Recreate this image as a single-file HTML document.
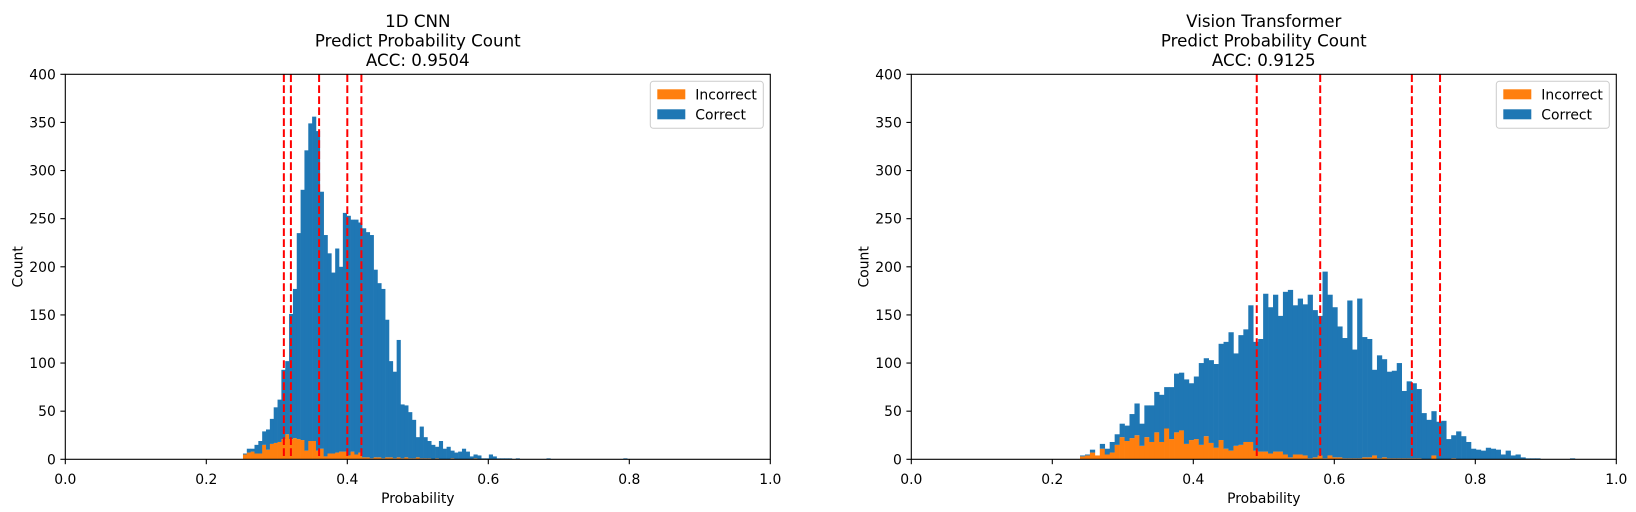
<!DOCTYPE html>
<html><head><meta charset="utf-8"><style>
html,body{margin:0;padding:0;background:#fff;}
svg{display:block;font-family:"DejaVu Sans","Liberation Sans",sans-serif;}
</style></head><body>
<svg id="fig" width="1636" height="512" viewBox="0 0 1636 512" xmlns="http://www.w3.org/2000/svg"></svg>
<script>
// ---- data ----
const xTicks = [0, 0.2, 0.4, 0.6, 0.8, 1.0];
const xTickLabels = ["0.0", "0.2", "0.4", "0.6", "0.8", "1.0"];
const yTicks = [0, 50, 100, 150, 200, 250, 300, 350, 400];
const cnnTitle = ["1D CNN", "Predict Probability Count", "ACC: 0.9504"];
const vitTitle = ["Vision Transformer", "Predict Probability Count", "ACC: 0.9125"];
const cnnBinStart = 0.252, cnnBinWidth = 0.00545;
const vitBinStart = 0.2393, vitBinWidth = 0.00702;
const cnnTotal = [6,11,11,15,19,29,31,42,54,62,93,102,151,177,235,280,321,349,356,341,278,233,214,194,219,200,256,253,249,249,246,240,236,233,197,183,177,145,102,91,124,57,56,49,41,23,34,23,19,15,13,19,11,13,9,7,8,11,8,3,5,4,1,1,5,3,1,1,1,1,0,1,0,0,0,0,0,0,0,1,0,0,0,0,0,0,0,0,0,0,0,0,0,0,0,0,0,0,0,1];
const cnnIncorrect = [5,7,8,6,6,15,10,16,17,18,21,26,21,22,21,20,9,19,19,9,11,3,6,6,7,8,8,4,8,5,7,2,2,1,2,2,1,2,2,1,2,1,2,1,1,2,1,1,1,0,1,0,0,0,1,0,0,0,0,0,1,0,0,0,0,0,0,0,0,0,0,0,0,0,0,0,0,0,0,0,0,0,0,0,0,0,0,0,0,0,0,0,0,0,0,0,0,0,0,0];
const vitTotal = [4,5,10,4,16,11,18,26,37,35,47,58,37,56,56,70,67,75,75,89,90,83,79,86,100,105,103,99,120,122,132,110,129,135,160,122,125,172,158,171,149,174,176,160,167,161,171,155,149,195,171,158,138,126,165,114,167,127,125,93,108,104,91,92,100,71,81,79,73,48,41,50,39,40,21,25,29,24,18,11,10,9,12,11,10,5,9,4,5,2,1,1,1,0,0,0,0,0,0,1];
const vitIncorrect = [3,4,7,4,11,5,7,15,23,19,22,25,14,23,18,28,18,32,21,28,30,16,20,21,15,24,17,12,20,11,9,14,15,18,18,9,8,8,6,8,8,5,2,5,5,4,1,2,4,1,4,2,2,1,1,1,1,2,2,4,1,2,1,1,1,1,1,1,1,0,0,4,0,0,0,1,0,0,0,0,0,0,0,0,0,0,0,0,0,0,0,0,0,0,0,0,0,0,0,0];
const cnnThresholds = [0.31, 0.32, 0.36, 0.40, 0.42];
const vitThresholds = [0.49, 0.58, 0.71, 0.75];

const NS = "http://www.w3.org/2000/svg";
const fig = document.getElementById("fig");
function mk(tag, attrs, parent) {
  const e = document.createElementNS(NS, tag);
  for (const k in attrs) e.setAttribute(k, attrs[k]);
  (parent || fig).appendChild(e);
  return e;
}
const TOP = 74.3, BOT = 459.3, YMAX = 400;
function panel(name, x0, x1, title, start, width, total, inc, thr) {
  const g = mk("g", {});
  
  
  const xs = v => x0 + v * (x1 - x0);
  const ys = v => BOT - v / YMAX * (BOT - TOP);
  const bars = mk("g", {}, g);
  
  
  for (let i = 0; i < total.length; i++) {
    const l = xs(start + i * width), r = xs(start + (i + 1) * width);
    const iv = inc[i], cv = Math.max(0, total[i] - inc[i]);
    if (iv > 0) {
      const b = mk("rect", {x: l, y: ys(iv), width: r - l + 0.3, height: ys(0) - ys(iv), fill: "#ff7f0e"}, bars);
      
      
    }
    if (cv > 0) {
      const b = mk("rect", {x: l, y: ys(iv + cv), width: r - l + 0.3, height: ys(iv) - ys(iv + cv), fill: "#1f77b4"}, bars);
      
      
    }
  }
  thr.forEach(t => {
    const l = mk("line", {x1: xs(t), x2: xs(t), y1: TOP, y2: BOT, stroke: "#ff0000", "stroke-width": 2, "stroke-dasharray": "7.7,3.3"}, g);
    
    
  });
  const fr = mk("rect", {x: x0, y: TOP, width: x1 - x0, height: BOT - TOP, fill: "none", stroke: "#000", "stroke-width": 1.1}, g);
  
  
  xTicks.forEach((t, k) => {
    mk("line", {x1: xs(t), x2: xs(t), y1: BOT, y2: BOT + 4.9, stroke: "#000", "stroke-width": 1.1}, g);
    const tx = mk("text", {x: xs(t), y: BOT + 24.5, "font-size": 13.9, "text-anchor": "middle", fill: "#000"}, g);
    tx.textContent = xTickLabels[k];
    
    
  });
  yTicks.forEach(t => {
    mk("line", {x1: x0 - 4.9, x2: x0, y1: ys(t), y2: ys(t), stroke: "#000", "stroke-width": 1.1}, g);
    const tx = mk("text", {x: x0 - 9.5, y: ys(t) + 5, "font-size": 13.9, "text-anchor": "end", fill: "#000"}, g);
    tx.textContent = String(t);
    
    
  });
  const xl = mk("text", {x: (x0 + x1) / 2, y: 503, "font-size": 13.9, "text-anchor": "middle"}, g);
  xl.textContent = "Probability";
  
  
  const yc = x0 - 43;
  const yl = mk("text", {x: yc, y: (TOP + BOT) / 2, "font-size": 13.9, "text-anchor": "middle", transform: `rotate(-90 ${yc} ${(TOP + BOT) / 2})`}, g);
  yl.textContent = "Count";
  
  
  title.forEach((s, k) => {
    const t = mk("text", {x: (x0 + x1) / 2, y: 27 + k * 19.5, "font-size": 16.7, "text-anchor": "middle"}, g);
    t.textContent = s;
    
    
  });
  // legend
  const lg = mk("g", {}, g);
  
  
  const lx = x1 - 120, ly = TOP + 7;
  mk("rect", {x: lx, y: ly, width: 113, height: 47, rx: 3, fill: "#fff", "fill-opacity": 0.8, stroke: "#ccc", "stroke-width": 1}, lg);
  [["Incorrect", "#ff7f0e"], ["Correct", "#1f77b4"]].forEach((e, k) => {
    const it = mk("g", {}, lg);
    
    
    mk("rect", {x: lx + 7, y: ly + 8 + k * 20, width: 28, height: 10, fill: e[1]}, it);
    const t = mk("text", {x: lx + 45, y: ly + 18 + k * 20, "font-size": 13.9}, it);
    t.textContent = e[0];
  });
}
panel("cnn-histogram", 65.3, 770.3, cnnTitle, cnnBinStart, cnnBinWidth, cnnTotal, cnnIncorrect, cnnThresholds);
panel("vit-histogram", 911.3, 1616.3, vitTitle, vitBinStart, vitBinWidth, vitTotal, vitIncorrect, vitThresholds);
</script>
</body></html>
